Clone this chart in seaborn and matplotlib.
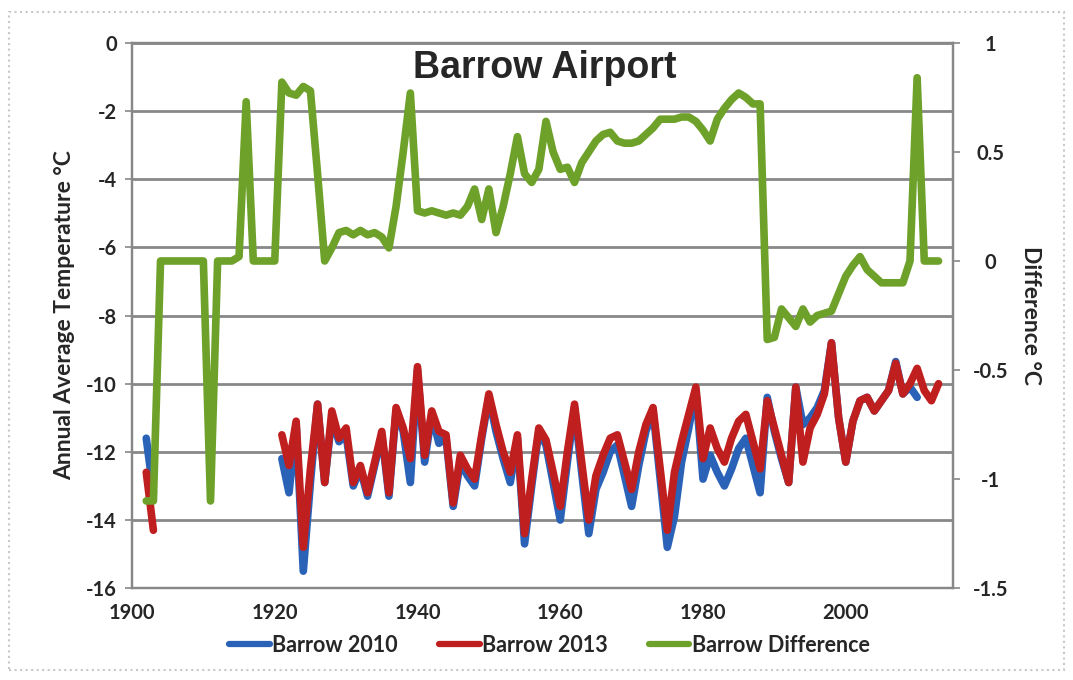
import pandas as pd
import matplotlib.pyplot as plt
import seaborn as sns
from matplotlib.lines import Line2D
from matplotlib.patches import Rectangle

# Barrow Airport annual mean temperature (°C)
years_early = [1902, 1903]
barrow_2010_early = [-11.6, -13.2]
barrow_2013_early = [-12.6, -14.3]

years_2010 = list(range(1921, 2011))
barrow_2010 = [
    -12.2, -13.2, -11.2, -15.5, -12.9, -10.6, -12.9, -11.0, -11.7, -11.5,   # 1921-1930
    -13.0, -12.5, -13.3, -12.4, -11.5, -13.3, -10.8, -11.4, -12.9, -9.6,    # 1931-1940
    -12.3, -10.9, -11.75, -11.6, -13.6, -12.3, -12.7, -13.0, -11.6, -10.4,  # 1941-1950
    -11.4, -12.2, -12.9, -11.6, -14.7, -13.0, -11.4, -11.8, -12.9, -14.0,   # 1951-1960
    -12.3, -10.7, -12.6, -14.4, -13.1, -12.6, -12.0, -11.8, -12.7, -13.6,   # 1961-1970
    -12.4, -11.4, -10.8, -12.8, -14.8, -13.9, -12.3, -11.3, -10.2, -12.8,   # 1971-1980
    -12.1, -12.6, -13.0, -12.5, -11.9, -11.6, -12.4, -13.2, -10.4, -11.4,   # 1981-1990
    -12.2, -12.9, -10.1, -11.2, -11.0, -10.7, -10.2, -8.8, -11.0, -12.3,    # 1991-2000
    -11.1, -10.5, -10.4, -10.8, -10.5, -10.2, -9.35, -10.3, -10.1, -10.4,   # 2001-2010
]

years_2013 = list(range(1921, 2014))
barrow_2013 = [
    -11.5, -12.4, -11.1, -14.8, -12.5, -10.6, -12.9, -10.8, -11.6, -11.3,   # 1921-1930
    -12.9, -12.4, -13.2, -12.3, -11.4, -13.2, -10.7, -11.3, -12.2, -9.5,    # 1931-1940
    -12.1, -10.8, -11.4, -11.5, -13.5, -12.1, -12.5, -12.8, -11.5, -10.3,   # 1941-1950
    -11.2, -12.0, -12.6, -11.5, -14.4, -12.8, -11.3, -11.65, -12.6, -13.6,  # 1951-1960
    -12.0, -10.6, -12.3, -14.0, -12.7, -12.1, -11.6, -11.5, -12.3, -13.1,   # 1961-1970
    -12.0, -11.2, -10.7, -12.5, -14.3, -12.6, -11.7, -10.9, -10.1, -12.2,   # 1971-1980
    -11.3, -11.9, -12.3, -11.6, -11.1, -10.9, -11.7, -12.5, -10.5, -11.3,   # 1981-1990
    -12.1, -12.9, -10.1, -12.3, -11.3, -10.9, -10.3, -8.8, -11.0, -12.3,    # 1991-2000
    -11.1, -10.5, -10.4, -10.8, -10.5, -10.2, -9.4, -10.3, -10.0, -9.55,    # 2001-2010
    -10.2, -10.5, -10.0,                                                    # 2011-2013
]

# difference 2013 - 2010 (°C), right axis
years_diff = list(range(1902, 2014))
barrow_diff = [
    -1.1, -1.1, 0, 0, 0, 0, 0, 0, 0, -1.1,                                 # 1902-1911
    0, 0, 0, 0.02, 0.73, 0, 0, 0, 0, 0.82,                                 # 1912-1921
    0.77, 0.76, 0.8, 0.78, 0.4, 0.0, 0.06, 0.13, 0.14, 0.12,               # 1922-1931
    0.14, 0.12, 0.13, 0.11, 0.06, 0.25, 0.5, 0.77, 0.23, 0.22,             # 1932-1941
    0.23, 0.22, 0.21, 0.22, 0.21, 0.25, 0.33, 0.19, 0.33, 0.13,            # 1942-1951
    0.25, 0.4, 0.57, 0.4, 0.36, 0.42, 0.64, 0.5, 0.42, 0.43,               # 1952-1961
    0.36, 0.45, 0.5, 0.55, 0.58, 0.59, 0.55, 0.54, 0.54, 0.55,             # 1962-1971
    0.58, 0.61, 0.65, 0.65, 0.65, 0.66, 0.66, 0.64, 0.6, 0.55,             # 1972-1981
    0.65, 0.7, 0.74, 0.77, 0.75, 0.72, 0.72, -0.36, -0.35, -0.22,          # 1982-1991
    -0.26, -0.3, -0.22, -0.28, -0.25, -0.24, -0.23, -0.15, -0.07, -0.02,   # 1992-2001
    0.02, -0.04, -0.07, -0.1, -0.1, -0.1, -0.1, 0.0, 0.84, 0.0,            # 2002-2011
    0.0, 0.0,                                                              # 2012-2013
]

blue = "#2a62b8"
red = "#c01f1f"
green = "#6ea12a"
grid_grey = "#888888"

sns.set_style("white")
plt.rcParams["font.family"] = ["Lato", "DejaVu Sans"]

fig, ax = plt.subplots(figsize=(10.73, 6.8), dpi=100)
fig.subplots_adjust(left=0.123, right=0.888, top=0.937, bottom=0.135)

lw = 5.5
for yrs, vals in [(years_early, barrow_2010_early), (years_2010, barrow_2010)]:
    sns.lineplot(x=yrs, y=vals, color=blue, linewidth=lw, ax=ax)
for yrs, vals in [(years_early, barrow_2013_early), (years_2013, barrow_2013)]:
    sns.lineplot(x=yrs, y=vals, color=red, linewidth=lw, ax=ax)

ax2 = ax.twinx()
sns.lineplot(x=years_diff, y=barrow_diff, color=green, linewidth=lw, ax=ax2)

ax.set_xlim(1900, 2015)
ax.set_ylim(-16, 0)
ax2.set_ylim(-1.5, 1)

ax.set_xticks(range(1900, 2001, 20))
ax.set_xticklabels([str(y) for y in range(1900, 2001, 20)], fontsize=14.5, fontweight="bold")
ax.set_yticks(range(-16, 1, 2))
ax.set_yticklabels([str(v) for v in range(-16, 1, 2)], fontsize=14.5, fontweight="bold")
diff_ticks = [-1.5, -1, -0.5, 0, 0.5, 1]
ax2.set_yticks(diff_ticks)
ax2.set_yticklabels(["-1.5", "-1", "-0.5", "0", "0.5", "1"], fontsize=14.5, fontweight="bold",
                    ha="center")

ax.yaxis.grid(True, color=grid_grey, linewidth=2)
ax.xaxis.grid(False)
ax.set_axisbelow(True)

for a in (ax, ax2):
    for s in a.spines.values():
        s.set_color(grid_grey)
        s.set_linewidth(1.6)
ax.tick_params(axis="both", which="both", direction="out", length=5, width=1.2, color=grid_grey, pad=6)
ax2.tick_params(axis="y", direction="out", length=5, width=1.2, color=grid_grey, pad=22)

ax.set_ylabel("Annual Average Temperature °C", fontsize=16.5, fontweight="bold", labelpad=8)
ax2.set_ylabel("Difference °C", fontsize=16.5, fontweight="bold", rotation=270, labelpad=24)
ax.set_xlabel("")

ax.text(0.503, 0.954, "Barrow Airport", transform=ax.transAxes, ha="center", va="center",
        fontsize=27, fontweight="bold", family=["Liberation Sans", "DejaVu Sans"])

handles = [Line2D([], [], color=c, linewidth=4.5) for c in (blue, red, green)]
fig.legend(handles, ["Barrow 2010", "Barrow 2013", "Barrow Difference"], loc="center",
           bbox_to_anchor=(0.512, 0.051), ncol=3, frameon=False,
           handlelength=1.9, handletextpad=0.1, columnspacing=1.9,
           prop={"weight": "bold", "size": 15.5})

fig.patches.append(Rectangle((0.008, 0.015), 0.984, 0.968, transform=fig.transFigure,
                             fill=False, edgecolor="#c8c8c8", linewidth=1.5, linestyle=":"))

fig.savefig("out.png", dpi=100, facecolor="white")
